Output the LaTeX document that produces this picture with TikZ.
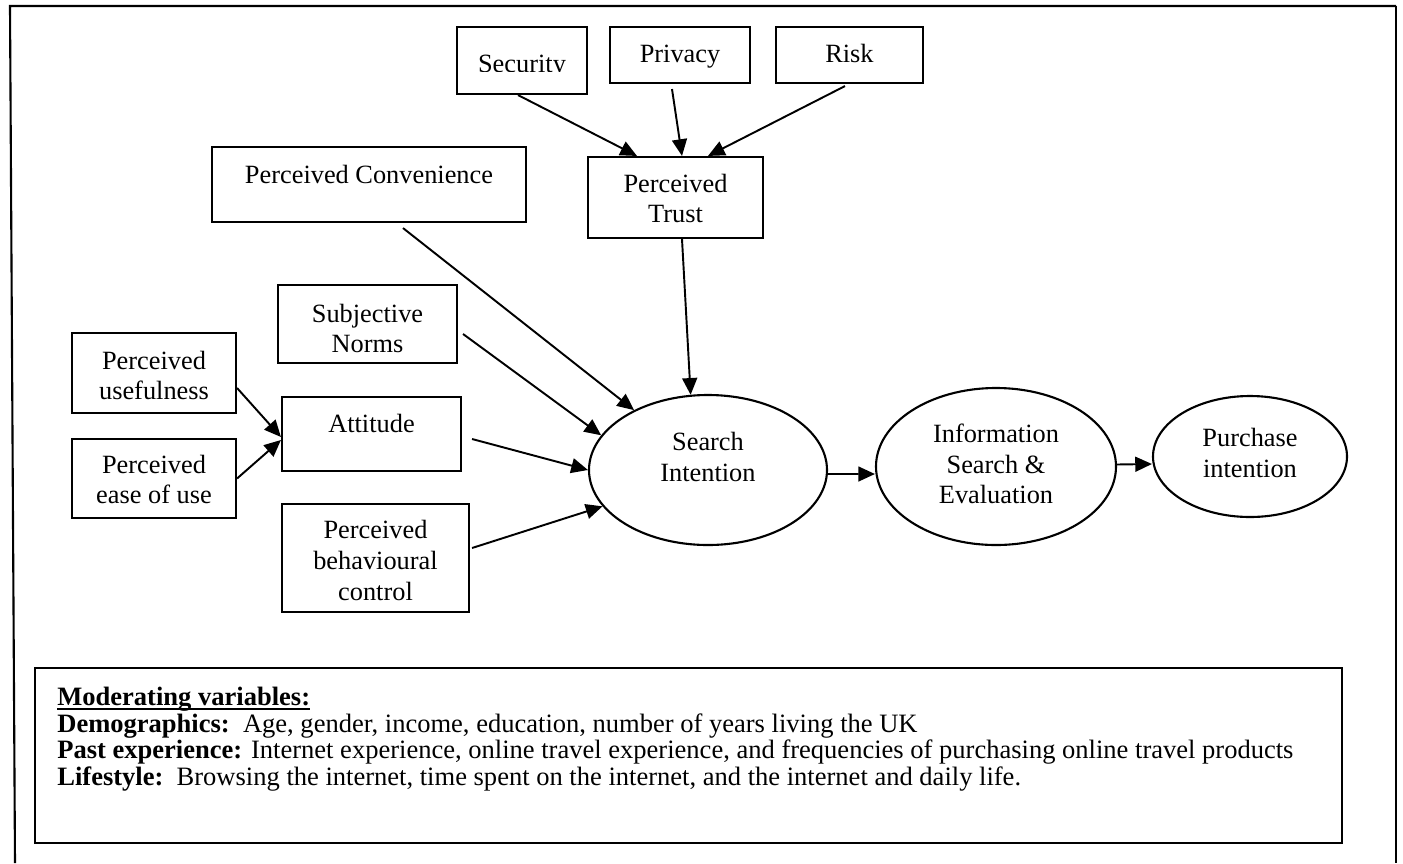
\documentclass[tikz,border=0pt]{standalone}
\usepackage{fontspec}
\setmainfont{Liberation Serif}
\usetikzlibrary{arrows.meta,calc,shapes.geometric}

% one drawing unit, as a length
\newcommand\pxl{0.02cm}
% bold heading with a heavier underline
\newcommand\ulhead[1]{\setbox0=\hbox{\bfseries #1}\rlap{\rule[-2.8pt]{\wd0}{1.3pt}}\box0}

\begin{document}
\begin{tikzpicture}[x=0.02cm,y=-0.02cm,
  every node/.style={font=\fontsize{15}{17.3}\selectfont},
  box/.style={draw, line width=1.2pt, rectangle, inner sep=0pt},
  oval/.style={draw, line width=1.2pt, ellipse, inner sep=0pt},
  lbl/.style={anchor=base, inner sep=0pt},
  note/.style={anchor=base west, inner sep=0pt, font=\fontsize{15.1}{15}\selectfont},
  link/.style={line width=1.1pt, -{Triangle[length=9.5pt,width=8.5pt]}},
  frame/.style={line width=1.2pt, line join=miter},
]
\useasboundingbox (0,0) rectangle (1403,863);

% outer frame (open at the bottom)
\coordinate (fr-bl) at (15,863);
\coordinate (fr-tl) at (10,6);
\coordinate (fr-tr) at (1396,6);
\coordinate (fr-br) at (1396,863);
\draw[frame] (fr-bl) -- (fr-tl) -- (fr-tr);
\draw[frame, line width=1.6pt] (fr-tr) -- (fr-br);

% antecedents of trust
\node[box, minimum width=130*\pxl, minimum height=67*\pxl] (sec) at (522,60.5) {};
\begin{scope}
  \clip (458,28) rectangle (586,71.5);
  \node[lbl] (sec-t) at (522,72.5) {Security};
\end{scope}
\node[box, minimum width=140*\pxl, minimum height=56*\pxl] (priv) at (680,55) {};
\node[lbl] (priv-t) at (680,62) {Privacy};
\node[box, minimum width=147*\pxl, minimum height=56*\pxl] (risk) at (849.5,55) {};
\node[lbl] (risk-t) at (849.5,62) {Risk};

\node[box, minimum width=175*\pxl, minimum height=81*\pxl] (trust) at (675.5,197.5) {};
\node[lbl] (trust-t1) at (675.5,192) {Perceived};
\node[lbl] (trust-t2) at (675.5,222) {Trust};

% other predictors
\node[box, minimum width=314*\pxl, minimum height=75*\pxl] (conv) at (369,184.5) {};
\node[lbl] (conv-t) at (369,183) {Perceived Convenience};

\node[box, minimum width=179*\pxl, minimum height=78*\pxl] (sn) at (367.5,324) {};
\node[lbl] (sn-t1) at (367.5,322) {Subjective};
\node[lbl] (sn-t2) at (367.5,352) {Norms};

\node[box, minimum width=164*\pxl, minimum height=80*\pxl] (use) at (154,373) {};
\node[lbl] (use-t1) at (154,369) {Perceived};
\node[lbl] (use-t2) at (154,399) {usefulness};

\node[box, minimum width=164*\pxl, minimum height=79*\pxl] (ease) at (154,478.5) {};
\node[lbl] (ease-t1) at (154,473) {Perceived};
\node[lbl] (ease-t2) at (154,503) {ease of use};

\node[box, minimum width=179*\pxl, minimum height=74*\pxl] (att) at (371.5,434) {};
\node[lbl] (att-t) at (371.5,432) {Attitude};

\node[box, minimum width=187*\pxl, minimum height=108*\pxl] (pbc) at (375.5,558) {};
\node[lbl] (pbc-t1) at (375.5,538) {Perceived};
\node[lbl] (pbc-t2) at (375.5,569) {behavioural};
\node[lbl] (pbc-t3) at (375.5,600) {control};

% outcome chain
\node[oval, minimum width=238*\pxl, minimum height=150*\pxl] (si) at (708,470) {};
\node[lbl] (si-t1) at (708,450) {Search};
\node[lbl] (si-t2) at (708,481) {Intention};

\node[oval, minimum width=240*\pxl, minimum height=157*\pxl] (ise) at (996,466.5) {};
\node[lbl] (ise-t1) at (996,442) {Information};
\node[lbl] (ise-t2) at (996,473) {Search \&};
\node[lbl] (ise-t3) at (996,503) {Evaluation};

\node[oval, minimum width=194*\pxl, minimum height=121*\pxl] (pi) at (1250,456.5) {};
\node[lbl] (pi-t1) at (1250,446) {Purchase};
\node[lbl] (pi-t2) at (1250,477) {intention};

% connectors
\draw[link] ([xshift=-4*\pxl]sec.south) -- ([xshift=-38.5*\pxl]trust.north);
\draw[link] ([xshift=-8*\pxl,yshift=-5*\pxl]priv.south) -- ([xshift=6.5*\pxl]trust.north);
\draw[link] ([xshift=-4.5*\pxl,yshift=-2*\pxl]risk.south) -- ([xshift=32.5*\pxl]trust.north);

\draw[link] ([xshift=6.5*\pxl]trust.south) -- (si.103);
\draw[link] ([xshift=34*\pxl,yshift=-5*\pxl]conv.south) -- (si.141);
\draw[link] ([xshift=5*\pxl,yshift=-10*\pxl]sn.east) -- (si.162);
\draw[link] ([xshift=10*\pxl,yshift=-5*\pxl]att.east) -- (si.180);
\draw[link] ([xshift=2*\pxl,yshift=10*\pxl]pbc.east) -- (si.199);

\draw[link] ([yshift=-15*\pxl]use.east) -- ([yshift=-3*\pxl]att.west);
\draw[link] (ease.east) -- ([yshift=-6*\pxl]att.west);

\draw[link] ([yshift=-4*\pxl]si.east) -- ([yshift=-7.5*\pxl]ise.west);
\draw[link] ([yshift=2*\pxl]ise.east) -- ([yshift=-7.5*\pxl]pi.west);

% moderating variables
\node[box, minimum width=1307*\pxl, minimum height=175*\pxl] (mod) at (688.5,755.5) {};
\node[note] (mod-h) at (57,705) {\ulhead{Moderating variables:}};
\node[note] (mod-d) at (57,732) {\textbf{Demographics:}\ \ Age, gender, income, education, number of years living the UK};
\node[note] (mod-p) at (57,758) {\textbf{Past experience:} Internet experience, online travel experience, and frequencies of purchasing online travel products};
\node[note] (mod-l) at (57,785) {\textbf{Lifestyle:}\ \ Browsing the internet, time spent on the internet, and the internet and daily life.};
\end{tikzpicture}
\end{document}
